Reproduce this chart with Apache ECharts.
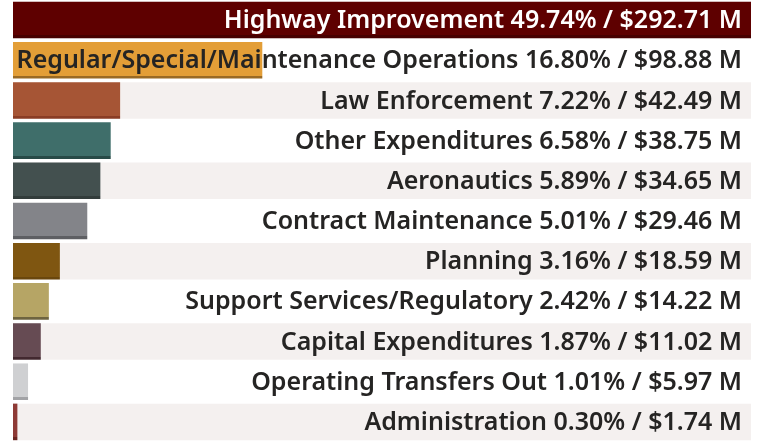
<!DOCTYPE html>
<html lang="en" style="height: 100%">
<head>
    <meta charset="utf-8">
    <title>Expenditures by Category</title>
    <script src="https://cdn.jsdelivr.net/npm/echarts@6/dist/echarts.min.js"></script>
    <style>
        body { margin: 0; background: #fff; }
        #main { width: 761px; height: 442px; }
    </style>
</head>
<body>
    <div id="main"></div>
    <script>
        // 类别与数值
        var categories = [
            'Highway Improvement',
            'Regular/Special/Maintenance Operations',
            'Law Enforcement',
            'Other Expenditures',
            'Aeronautics',
            'Contract Maintenance',
            'Planning',
            'Support Services/Regulatory',
            'Capital Expenditures',
            'Operating Transfers Out',
            'Administration'
        ];
        var amounts = [292.71, 98.88, 42.49, 38.75, 34.65, 29.46, 18.59, 14.22, 11.02, 5.97, 1.74];
        var percents = ['49.74', '16.80', '7.22', '6.58', '5.89', '5.01', '3.16', '2.42', '1.87', '1.01', '0.30'];
        var barColors = ['#5e0000', '#e39e37', '#a65535', '#3f6e6a', '#43504f', '#838489',
                         '#7f5611', '#b6a565', '#664b53', '#cfd0d2', '#8e3a35'];
        var edgeColors = ['#470000', '#9a6a24', '#8a3d25', '#284a47', '#333d3c', '#5e5f63',
                          '#6a470d', '#6e6440', '#42282f', '#a2a3a6', '#6b2520'];

        var axisMax = Math.max.apply(null, amounts);

        // 底部深色条纹
        function edgeFill(c, e) {
            return new echarts.graphic.LinearGradient(0, 0, 0, 1, [
                { offset: 0, color: c },
                { offset: 0.92, color: c },
                { offset: 0.92, color: e },
                { offset: 1, color: e }
            ]);
        }

        var chart = echarts.init(document.getElementById('main'));

        var option = {
            animation: false,
            grid: { left: 13, right: 10, top: 0, height: 444 },
            xAxis: { type: 'value', min: 0, max: axisMax, show: false },
            yAxis: { type: 'category', data: categories, inverse: true, show: false },
            series: [
                {
                    // 隔行背景
                    type: 'bar',
                    z: 1,
                    barWidth: '91%',
                    barGap: '-100%',
                    silent: true,
                    data: categories.map(function (c, i) {
                        return { value: axisMax, itemStyle: { color: i % 2 === 0 ? '#f4f0ef' : 'rgba(0,0,0,0)' } };
                    })
                },
                {
                    type: 'bar',
                    z: 2,
                    barWidth: '91%',
                    barGap: '-100%',
                    data: amounts.map(function (v, i) {
                        return { value: v, itemStyle: { color: edgeFill(barColors[i], edgeColors[i]) } };
                    })
                },
                {
                    // 文字标签
                    type: 'bar',
                    z: 3,
                    barWidth: '91%',
                    barGap: '-100%',
                    silent: true,
                    itemStyle: { color: 'rgba(0,0,0,0)' },
                    label: {
                        show: true,
                        position: 'insideRight',
                        distance: 9,
                        offset: [0, 1],
                        fontFamily: 'Noto Sans',
                        fontSize: 25,
                        fontWeight: 600,
                        formatter: function (p) {
                            return categories[p.dataIndex] + ' ' + percents[p.dataIndex] + '% / $' +
                                amounts[p.dataIndex].toFixed(2) + ' M';
                        }
                    },
                    data: categories.map(function (c, i) {
                        return { value: axisMax, label: { color: i === 0 ? '#ffffff' : '#252423' } };
                    })
                }
            ]
        };

        chart.setOption(option);
    </script>
</body>
</html>
